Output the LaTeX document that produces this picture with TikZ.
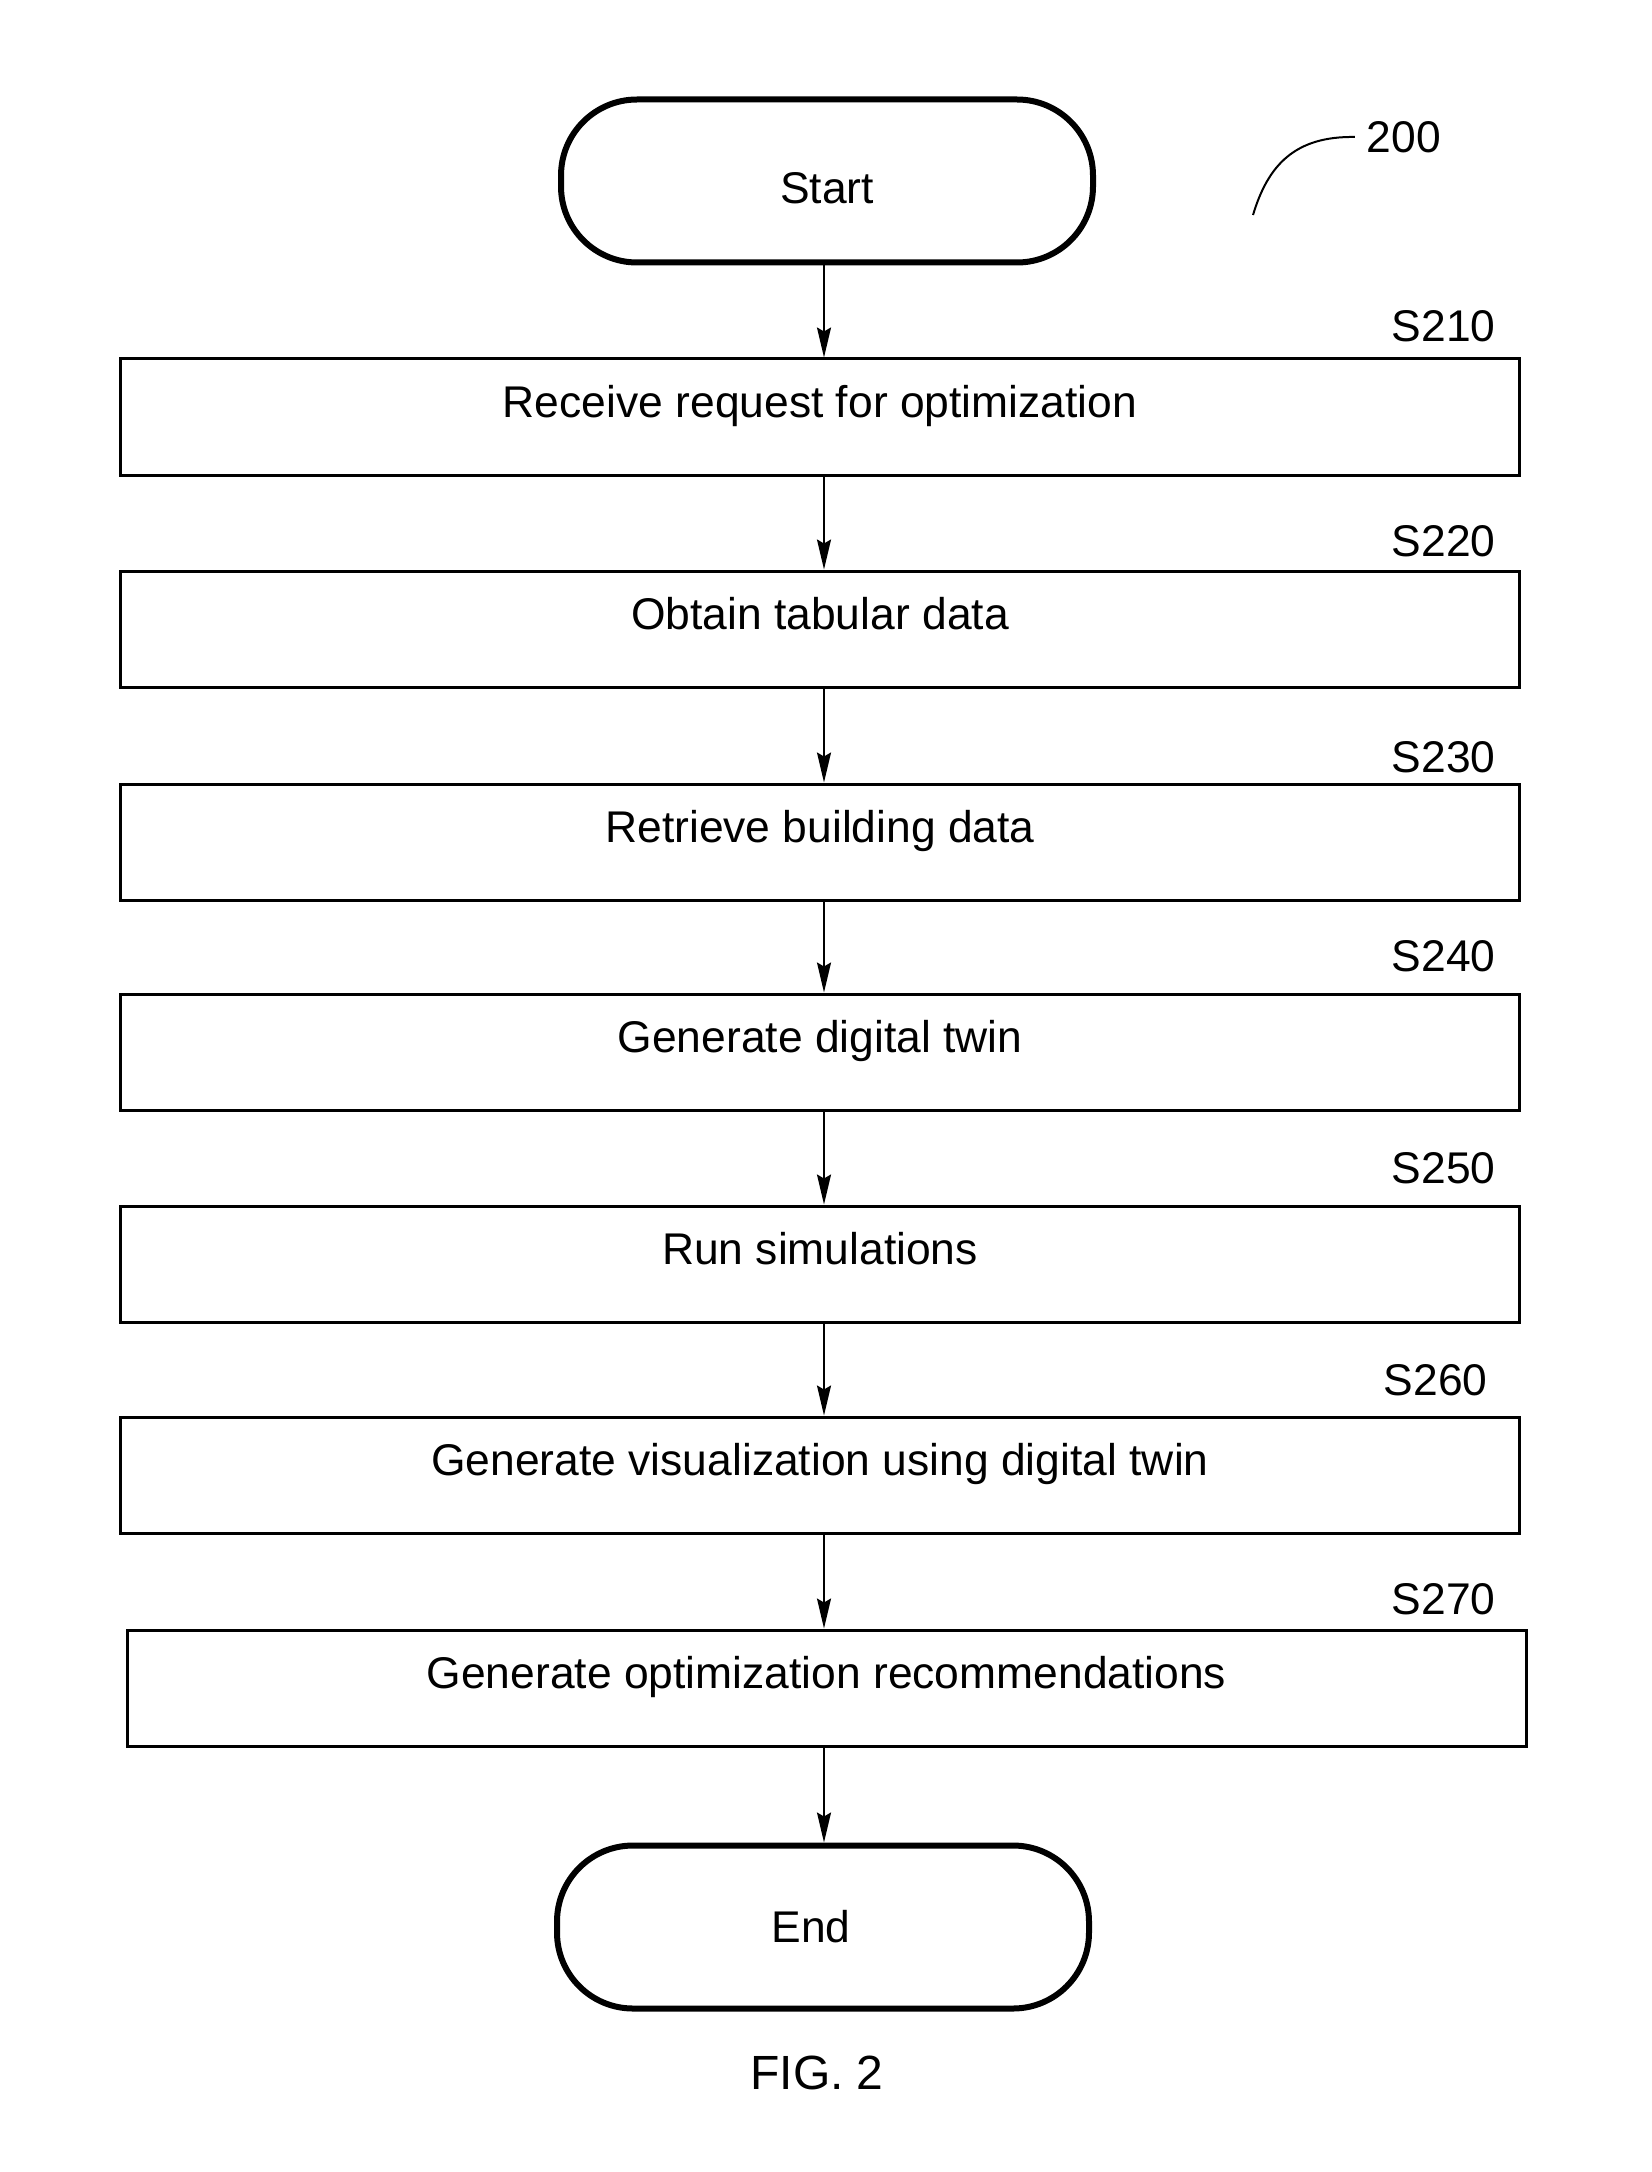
\documentclass[tikz,border=0pt]{standalone}
\usepackage{fontspec}
\setmainfont{Liberation Sans}
\usetikzlibrary{arrows.meta}

\begin{document}
\begin{tikzpicture}[x=0.5pt,y=-0.5pt,
        font=\fontsize{22.2}{26}\selectfont,
        term/.style={draw,line width=3pt,rounded corners=38pt,minimum width=266pt,minimum height=81.5pt,inner sep=0pt},
        stepbox/.style={draw,line width=1.5pt,minimum width=699.5pt,minimum height=58pt,inner sep=0pt,text height=16pt,text depth=15.2pt},
        steplabel/.style={anchor=base east,inner sep=0pt},
        arr/.style={line width=1pt,-{Stealth[length=15pt,width=7pt,inset=2pt]}}]

    \useasboundingbox (0,0) rectangle (1651,2172);

    \node[term,text height=22.4pt,text depth=0pt] (start) at (827,181) {Start};

    \foreach \n/\x/\y/\dx/\dy/\txt in {
            210/820/417/0/0.7/Receive request for optimization,
            220/820/629/0/2.1/Obtain tabular data,
            230/820/842/0/3.5/Retrieve building data,
            240/820/1052/0/-2.1/Generate digital twin,
            250/820/1264/0/-2.1/Run simulations,
            260/820/1475/4/-1.4/Generate visualization using digital twin,
            270/826.5/1688/3.25/1.4/Generate optimization recommendations}
    {
        \node[stepbox] (b\n) at (\x,\y) {\txt};
        \node[steplabel] (s\n) at ([xshift=-12.5pt-\dx pt,yshift=8.5pt-\dy pt]b\n.north east) {S\n};
    }

    \node[term] (end) at (823,1927) {End\hspace*{12pt}};

    % arrows down the middle column
    \coordinate (col) at (824,0);
    \foreach \a/\b in {start/b210,b210/b220,b220/b230,b230/b240,b240/b250,b250/b260,b260/b270,b270/end}
        \draw[arr] (\a.south -| col) -- (\b.north -| col);

    % reference numeral
    \node (ref200) at (1404,137) {200};
    \coordinate (tail200) at (1253,215);
    \draw[line width=1pt] (tail200) .. controls (1268,165) and (1295,136) .. ([xshift=-2.5pt]ref200.west);

    \node[font=\fontsize{24}{28}\selectfont] (fig) at (817,2073) {FIG. 2};
\end{tikzpicture}
\end{document}
